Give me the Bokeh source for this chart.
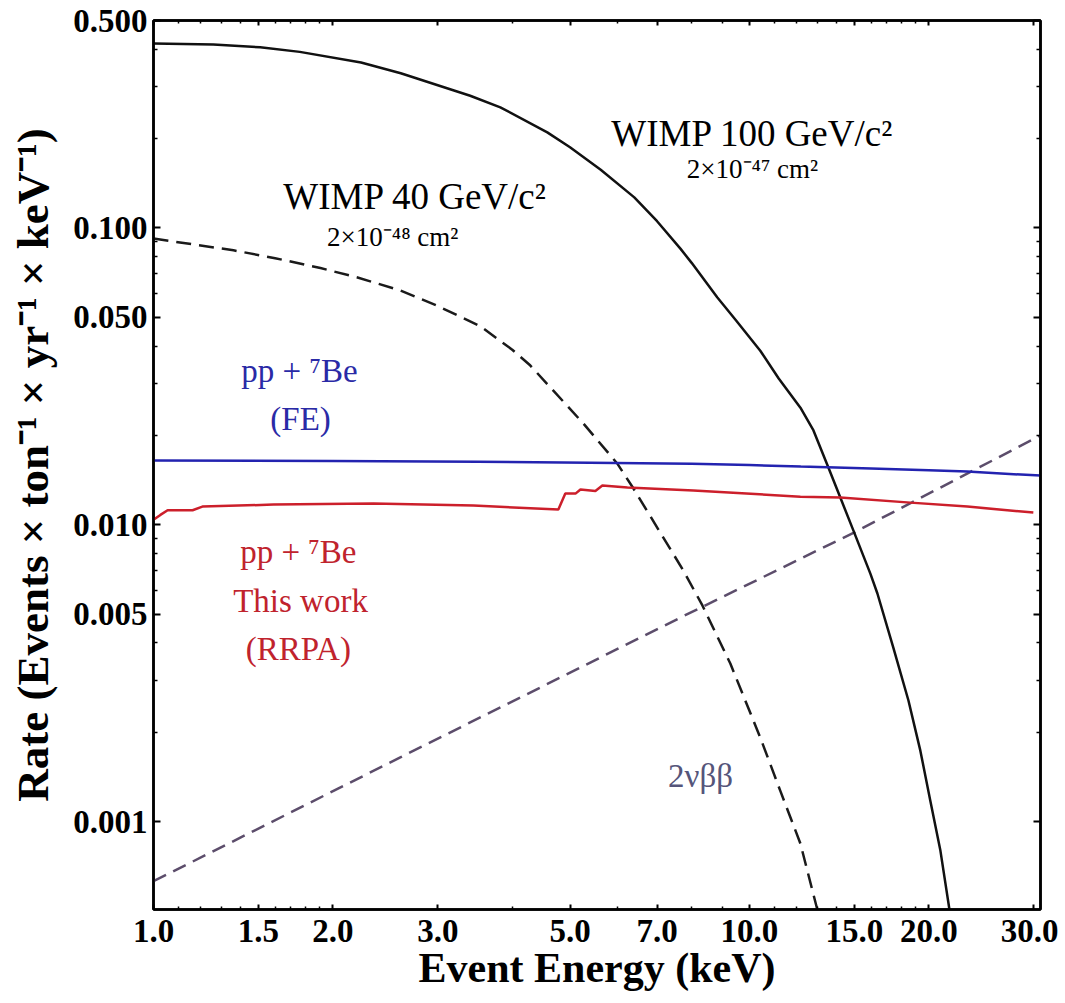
from bokeh.plotting import figure
from bokeh.models import FixedTicker, LogAxis, NumeralTickFormatter, Range1d, Label
from bokeh.embed import file_html
from bokeh.resources import INLINE

# ---------------- data ----------------
wimp100_energy = [1.0, 1.26, 1.51, 1.76, 2.23, 2.60, 3.40, 3.82, 4.58, 5.0, 5.63, 6.41,
                  7.0, 7.66, 8.0, 8.83, 9.5, 10.43, 11.2, 12.18, 12.81, 13.57, 14.21,
                  14.95, 15.96, 16.40, 17.44, 18.49, 19.36, 20.12, 20.92, 21.65, 22.0]
wimp100_rate = [0.418, 0.415, 0.406, 0.392, 0.361, 0.332, 0.279, 0.255, 0.210, 0.187,
                0.157, 0.1268, 0.1054, 0.0852, 0.0763, 0.0584, 0.0488, 0.0386, 0.0311,
                0.0248, 0.0208, 0.0156, 0.01236, 0.00956, 0.00685, 0.00587, 0.00386,
                0.00256, 0.001735, 0.001177, 0.000799, 0.00051, 0.00042]

wimp40_energy = [1.0, 1.362, 1.6, 1.906, 2.2, 2.597, 3.0, 3.54, 4.0, 4.29, 5.27, 6.00,
                 6.39, 7.75, 8.34, 9.29, 10.43, 11.27, 12.18, 13.0, 13.3]
wimp40_rate = [0.0921, 0.0841, 0.0791, 0.0733, 0.0681, 0.0616, 0.0546, 0.0466, 0.0389,
               0.0344, 0.0219, 0.0161, 0.01325, 0.00701, 0.00535, 0.00341, 0.00192,
               0.00127, 0.000844, 0.000506, 0.00042]

fe_energy = [1.0, 2.0, 3.5, 5.4, 8.0, 10.0, 12.2, 16.0, 20.0, 23.2, 30.8]
fe_rate = [0.01646, 0.01640, 0.01632, 0.0162, 0.01605, 0.0159, 0.01571, 0.01547,
           0.01527, 0.01511, 0.01465]

rrpa_energy = [1.0, 1.027, 1.056, 1.163, 1.208, 1.589, 2.339, 3.443, 4.78, 4.91, 5.107,
               5.206, 5.515, 5.666, 6.242, 8.054, 12.18, 14.21, 18.63, 23.22, 29.96]
rrpa_rate = [0.0104, 0.0108, 0.0112, 0.0112, 0.01152, 0.0117, 0.01179, 0.01161, 0.01126,
             0.01274, 0.01274, 0.01315, 0.01300, 0.01356, 0.01335, 0.01304, 0.01244,
             0.01235, 0.01188, 0.01152, 0.0110]

bb_energy = [1.0, 2.6, 7.66, 14.95, 30.8]
bb_rate = [0.00063, 0.00165, 0.00487, 0.0094, 0.0200]

x_major = [1.0, 1.5, 2.0, 3.0, 5.0, 7.0, 10.0, 15.0, 20.0, 30.0]
x_minor = [1.1, 1.2, 1.3, 1.4, 1.6, 1.7, 1.8, 1.9, 4.0, 6.0, 8.0, 9.0,
           11.0, 12.0, 13.0, 14.0, 16.0, 17.0, 18.0, 19.0]
y_major = [0.001, 0.005, 0.01, 0.05, 0.1, 0.5]
y_minor = [0.002, 0.003, 0.004, 0.006, 0.007, 0.008, 0.009, 0.02, 0.03, 0.04,
           0.06, 0.07, 0.08, 0.09, 0.2, 0.3, 0.4]

# ---------------- figure ----------------
SERIF = "Liberation Serif"

p = figure(width=1058, height=1002, x_axis_type="log", y_axis_type="log",
           x_range=Range1d(1.0, 30.8), y_range=Range1d(0.000506, 0.5),
           output_backend="svg", toolbar_location=None,
           min_border_left=153, min_border_right=18, min_border_top=20,
           min_border_bottom=93)
p.grid.visible = False
p.outline_line_color = "black"
p.outline_line_width = 2.5
p.background_fill_color = "white"
p.border_fill_color = "white"

xt = FixedTicker(ticks=x_major, minor_ticks=x_minor)
yt = FixedTicker(ticks=y_major, minor_ticks=y_minor)

def style_axis(ax, labels=True, major_len=6, minor_len=3):
    ax.axis_line_color = "black"
    ax.axis_line_width = 2.5
    ax.major_tick_line_color = "black"
    ax.minor_tick_line_color = "black"
    ax.major_tick_line_width = 2
    ax.minor_tick_line_width = 1.5
    ax.major_tick_in = major_len
    ax.major_tick_out = 0
    ax.minor_tick_in = minor_len
    ax.minor_tick_out = 0
    if labels:
        ax.major_label_text_font = SERIF
        ax.major_label_text_font_style = "bold"
        ax.major_label_text_font_size = "33px"
        ax.major_label_text_color = "black"
    else:
        ax.major_label_text_font_size = "2px"
        ax.major_label_text_color = None
        ax.major_label_standoff = 0

xa = p.xaxis[0]
xa.ticker = xt
xa.formatter = NumeralTickFormatter(format="0.0")
style_axis(xa, True, 5, 3)
xa.major_label_standoff = 10
xa.axis_label = "Event Energy (keV)"
xa.axis_label_text_font = SERIF
xa.axis_label_text_font_style = "bold"
xa.axis_label_text_font_size = "42px"
xa.axis_label_text_color = "black"
xa.axis_label_standoff = 0

ya = p.yaxis[0]
ya.ticker = yt
ya.formatter = NumeralTickFormatter(format="0.000")
style_axis(ya, True, 7, 4)
ya.major_label_standoff = 6
ya.axis_label = "Rate (Events × ton⁻¹ × yr⁻¹ × keV⁻¹)"
ya.axis_label_text_font = SERIF
ya.axis_label_text_font_style = "bold"
ya.axis_label_text_font_size = "45px"
ya.axis_label_text_color = "black"
ya.axis_label_standoff = 12

top = LogAxis(ticker=FixedTicker(ticks=x_major, minor_ticks=x_minor))
style_axis(top, False, 5, 3)
p.add_layout(top, "above")

right = LogAxis(ticker=FixedTicker(ticks=y_major, minor_ticks=y_minor))
style_axis(right, False, 7, 4)
p.add_layout(right, "right")

# ---------------- curves ----------------
p.line(bb_energy, bb_rate, line_color="#5c4d6b", line_width=2.5, line_dash="14 8")
p.line(wimp40_energy, wimp40_rate, line_color="#1a1a1a", line_width=2.5, line_dash="15 8")
p.line(wimp100_energy, wimp100_rate, line_color="#111111", line_width=2.5)
p.line(fe_energy, fe_rate, line_color="#2323b0", line_width=2.5)
p.line(rrpa_energy, rrpa_rate, line_color="#cc1f2b", line_width=2.5)

# ---------------- annotations ----------------
def add_label(x, y, text, size, color="black"):
    p.add_layout(Label(x=x, y=y, text=text, text_align="center", text_baseline="middle",
                       text_font=SERIF, text_font_size=size, text_color=color))

add_label(10.12, 0.208, "WIMP 100 GeV/c²", "37px")
add_label(10.12, 0.158, "2×10⁻⁴⁷ cm²", "27px")
add_label(2.75, 0.1276, "WIMP 40 GeV/c²", "37px")
add_label(2.52, 0.0936, "2×10⁻⁴⁸ cm²", "27px")
add_label(1.758, 0.0331, "pp + ⁷Be", "33px", "#2a2aa6")
add_label(1.765, 0.0228, "(FE)", "33px", "#2a2aa6")
add_label(1.75, 0.00813, "pp + ⁷Be", "33px", "#c0232d")
add_label(1.765, 0.00556, "This work", "33px", "#c0232d")
add_label(1.75, 0.00383, "(RRPA)", "33px", "#c0232d")
add_label(8.28, 0.00143, "2νββ", "33px", "#55557a")

open("out.html", "w").write(file_html(p, INLINE))
